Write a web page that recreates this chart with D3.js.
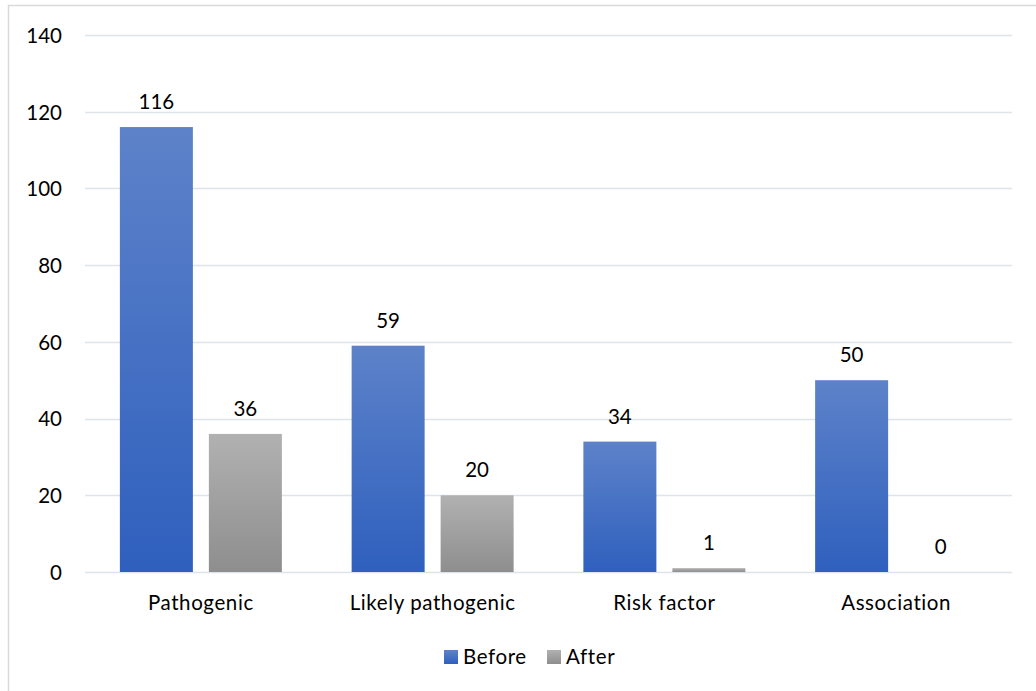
<!DOCTYPE html>
<html>
<head>
<meta charset="utf-8">
<script src="https://cdn.jsdelivr.net/npm/d3@7/dist/d3.min.js"></script>
<style>
  html, body { margin: 0; padding: 0; background: #fff; }
  svg text { font-family: Lato, "Open Sans", "Liberation Sans", sans-serif; fill: #000; }
  .wide { letter-spacing: 0.6px; }
</style>
</head>
<body>
<svg id="chart" width="1036" height="691"></svg>
<script>
// Variant classification counts, before and after re-evaluation
const categories = ["Pathogenic", "Likely pathogenic", "Risk factor", "Association"];
const seriesNames = ["Before", "After"];
const beforeValues = [116, 59, 34, 50];
const afterValues = [36, 20, 1, 0];
const yTicks = [0, 20, 40, 60, 80, 100, 120, 140];

const svg = d3.select("#chart");
const W = 1036, H = 691;
const plot = { left: 85, right: 1012, top: 35, bottom: 572 };
const fontSize = "20.5px";

// chart frame
svg.append("rect")
  .attr("x", 8.5).attr("y", 5.5)
  .attr("width", W + 10).attr("height", H + 10)
  .attr("fill", "#fff").attr("stroke", "#d9d9d9").attr("stroke-width", 1.5);

// gradients for bar fills
const defs = svg.append("defs");
function grad(id, top, bottom) {
  const g = defs.append("linearGradient").attr("id", id)
    .attr("x1", 0).attr("y1", 0).attr("x2", 0).attr("y2", 1);
  g.append("stop").attr("offset", "0%").attr("stop-color", top);
  g.append("stop").attr("offset", "100%").attr("stop-color", bottom);
}
grad("gBefore", "#5d82c9", "#2f60be");
grad("gAfter", "#b1b1b1", "#8e8e8e");
const fills = { Before: "url(#gBefore)", After: "url(#gAfter)" };

const x0 = d3.scaleBand().domain(categories).range([plot.left, plot.right]).paddingInner(0).paddingOuter(0);
const y = d3.scaleLinear().domain([0, 140]).range([plot.bottom, plot.top]);

// bar geometry inside each category band
const bandW = x0.bandwidth();
const barW = bandW * 0.315;
const gapW = bandW * 0.069;
const x1 = d3.scaleOrdinal().domain(seriesNames)
  .range([(bandW - 2 * barW - gapW) / 2, (bandW - 2 * barW - gapW) / 2 + barW + gapW]);

// gridlines
svg.append("g").selectAll("line").data(yTicks).join("line")
  .attr("x1", plot.left).attr("x2", plot.right)
  .attr("y1", d => Math.round(y(d)) + 0.5).attr("y2", d => Math.round(y(d)) + 0.5)
  .attr("stroke", "#dfe3ea").attr("stroke-width", 1.6);

// y axis labels
const yAxis = d3.axisLeft(y).tickValues(yTicks).tickSize(0).tickPadding(0);
const ya = svg.append("g").attr("transform", `translate(${62},0)`).call(yAxis);
ya.select(".domain").remove();
ya.selectAll("text").style("font-size", fontSize).attr("dy", "0.36em").attr("fill", "#000");

const rows = categories.map((c, i) => ({ cat: c, Before: beforeValues[i], After: afterValues[i] }));

const groups = svg.append("g").selectAll("g").data(rows).join("g")
  .attr("transform", d => `translate(${x0(d.cat)},0)`);

groups.selectAll("rect").data(d => seriesNames.map(s => ({ s, v: d[s] }))).join("rect")
  .attr("x", d => x1(d.s)).attr("width", barW)
  .attr("y", d => y(d.v)).attr("height", d => y(0) - y(d.v))
  .attr("fill", d => fills[d.s]);

groups.selectAll("text.val").data(d => seriesNames.map(s => ({ s, v: d[s] }))).join("text")
  .attr("class", "val")
  .attr("x", d => x1(d.s) + barW / 2)
  .attr("y", d => y(d.v) - 18)
  .attr("text-anchor", "middle")
  .style("font-size", fontSize)
  .text(d => d.v);

// category axis labels
const xAxis = d3.axisBottom(x0).tickSize(0).tickPadding(0);
const xa = svg.append("g").attr("transform", `translate(0,${plot.bottom})`).call(xAxis);
xa.select(".domain").remove();
xa.selectAll("text").attr("class", "wide").style("font-size", fontSize)
  .attr("dy", null).attr("y", 38).attr("fill", "#000");

// legend
const legend = svg.append("g").attr("transform", "translate(444,650)");
const legendX = [0, 103];
seriesNames.forEach((s, i) => {
  const g = legend.append("g").attr("transform", `translate(${legendX[i]},0)`);
  g.append("rect").attr("width", 14).attr("height", 14).attr("fill", fills[s]);
  g.append("text").attr("class", "wide").attr("x", 19).attr("y", 14)
    .style("font-size", fontSize).text(s);
});
</script>
</body>
</html>
